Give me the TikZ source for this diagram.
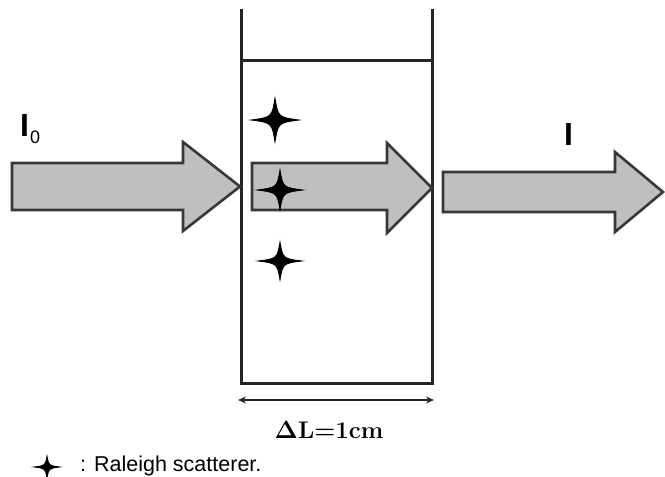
\documentclass[tikz,border=0pt]{standalone}
\usepackage{fontspec}
\usepackage{amsmath,amsbsy}
\newfontfamily\arialfont{Liberation Sans}
\usetikzlibrary{arrows.meta,calc}
\tikzset{
  beam/.style={fill=black!25, draw=black!78, line width=2.6pt, line join=miter},
  wall/.style={draw=black!85, line width=3pt},
  scatterer/.style={fill=black, draw=black, line width=0.8pt},
  dimline/.style={draw=black!85, line width=2.4pt, <->, >={Stealth[length=8pt,width=7pt]}},
}
% four-pointed star with concave sides: centre #1, half width #2, half height #3
\newcommand{\quadstar}[3]{%
  \path[scatterer] ($#1+(#2,0)$)
    .. controls ($#1+(0.13*#2,0.13*#3)$) .. ($#1+(0,#3)$)
    .. controls ($#1+(-0.13*#2,0.13*#3)$) .. ($#1+(-#2,0)$)
    .. controls ($#1+(-0.13*#2,-0.13*#3)$) .. ($#1+(0,-#3)$)
    .. controls ($#1+(0.13*#2,-0.13*#3)$) .. cycle;}
\newcommand{\lenlabel}{$\boldsymbol{\Delta}$L=1cm}
\begin{document}
\begin{tikzpicture}[x=1pt,y=-1pt]
  \useasboundingbox (0,0) rectangle (665,477);

  % cuvette
  \coordinate (wl) at (241,10);
  \coordinate (wr) at (432,10);
  \draw[wall,line cap=rect] (wl) -- (241,383) -- (432,383) -- (wr);
  \draw[wall] (241,60) -- (432,60);

  % incident beam
  \path[beam] (12,163) -- (183,163) -- (183,142) -- (240,186.5) -- (183,231) -- (183,210) -- (12,210) -- cycle;
  % beam inside the sample
  \path[beam] (252,163) -- (387,163) -- (387,143) -- (432,188) -- (387,233) -- (387,210) -- (252,210) -- cycle;
  % transmitted beam
  \path[beam] (443,172) -- (615,172) -- (615,152) -- (663,192) -- (615,232) -- (615,212) -- (443,212) -- cycle;

  % scatterers
  \quadstar{(275,120)}{24}{22}
  \quadstar{(280,190)}{23}{20}
  \quadstar{(280,261)}{22}{19}

  % labels
  \node[anchor=base west, inner sep=0pt, font=\arialfont] (iin) at (20,136)
    {{\fontsize{32}{32}\selectfont\bfseries I}\kern1pt\raisebox{-7pt}{\fontsize{18}{18}\selectfont 0}};
  \node[anchor=base west, inner sep=0pt, font=\arialfont\fontsize{32}{32}\selectfont\bfseries] (iout) at (564,145) {I};

  % path length
  \coordinate (dl) at (238,400);
  \coordinate (dr) at (434,400);
  \draw[dimline] (dl) -- (dr);
  \node[anchor=base, inner sep=0pt, font=\bfseries\fontsize{24}{28}\selectfont] (len) at (329,438) {\lenlabel};

  % legend
  \quadstar{(47,467)}{13}{11}
  \node[anchor=base west, inner sep=0pt, font=\arialfont\fontsize{21.5}{24}\selectfont] (leg) at (80,471) {: Raleigh scatterer.};
\end{tikzpicture}
\end{document}
